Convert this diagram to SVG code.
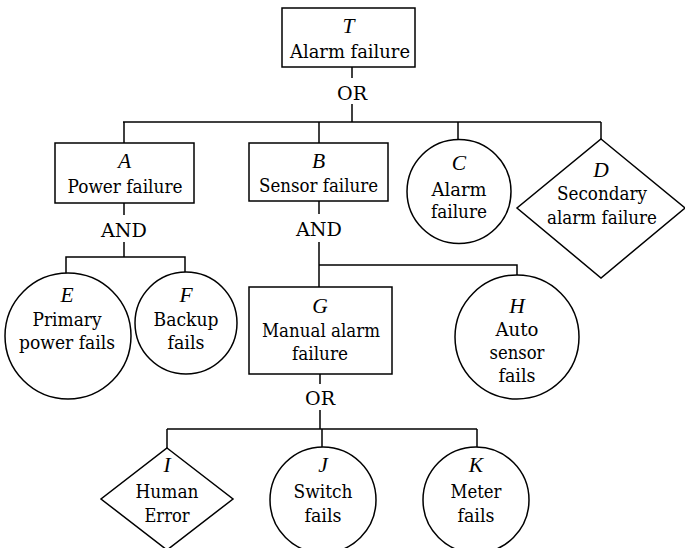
<svg xmlns="http://www.w3.org/2000/svg" width="685" height="548" viewBox="0 0 685 548">
<style>
.s{fill:#fff;stroke:#000;stroke-width:1.5}
.c line,.c polyline{stroke:#000;stroke-width:1.5;fill:none}
text{font-family:"DejaVu Serif","Liberation Serif",serif;font-size:19px;fill:#000;text-anchor:middle}
text.i{font-family:"Liberation Serif","DejaVu Serif",serif;font-size:21.5px;font-style:italic}
</style>
<rect width="685" height="548" fill="#fff"/>
<g class="c" id="connectors">
<line x1="352" y1="67" x2="352" y2="78"/>
<line x1="352" y1="104" x2="352" y2="122"/>
<line x1="123" y1="122" x2="601" y2="122"/>
<line x1="124" y1="122" x2="124" y2="143"/>
<line x1="319" y1="122" x2="319" y2="143"/>
<line x1="458" y1="122" x2="458" y2="140"/>
<line x1="601" y1="122" x2="601" y2="139"/>
<line x1="124" y1="203" x2="124" y2="215"/>
<line x1="124" y1="242" x2="124" y2="257"/>
<polyline points="66,274 66,257 185,257 185,272"/>
<line x1="319" y1="201" x2="319" y2="214"/>
<line x1="319" y1="242" x2="319" y2="287"/>
<polyline points="319,265 517,265 517,275"/>
<line x1="320" y1="374" x2="320" y2="384"/>
<line x1="320" y1="410" x2="320" y2="429"/>
<line x1="167" y1="429" x2="477" y2="429"/>
<line x1="167" y1="429" x2="167" y2="448"/>
<line x1="322" y1="429" x2="322" y2="447"/>
<line x1="477" y1="429" x2="477" y2="447"/>
<text x="352" y="100" textLength="30" lengthAdjust="spacingAndGlyphs">OR</text>
<text x="124" y="237" textLength="46" lengthAdjust="spacingAndGlyphs">AND</text>
<text x="319" y="236" textLength="46" lengthAdjust="spacingAndGlyphs">AND</text>
<text x="320" y="405" textLength="30" lengthAdjust="spacingAndGlyphs">OR</text>
</g>
<g id="T"><rect class="s" x="282" y="8" width="133" height="59"/><text class="i" x="348.5" y="33">T</text><text x="350" y="58" textLength="120" lengthAdjust="spacingAndGlyphs">Alarm failure</text></g>
<g id="A"><rect class="s" x="55" y="143" width="139" height="60"/><text class="i" x="124.5" y="168">A</text><text x="125" y="193" textLength="115" lengthAdjust="spacingAndGlyphs">Power failure</text></g>
<g id="B"><rect class="s" x="249" y="143" width="139" height="58"/><text class="i" x="318.5" y="168">B</text><text x="318.5" y="192" textLength="119" lengthAdjust="spacingAndGlyphs">Sensor failure</text></g>
<g id="C"><circle class="s" cx="459" cy="191.5" r="52"/><text class="i" x="459" y="170">C</text><text x="459" y="196" textLength="55" lengthAdjust="spacingAndGlyphs">Alarm</text><text x="459" y="218" textLength="56" lengthAdjust="spacingAndGlyphs">failure</text></g>
<g id="D"><polygon class="s" points="601,139 685,208 601,278 517,208"/><text class="i" x="601" y="177">D</text><text x="602" y="200" textLength="90" lengthAdjust="spacingAndGlyphs">Secondary</text><text x="602" y="224" textLength="110" lengthAdjust="spacingAndGlyphs">alarm failure</text></g>
<g id="E"><circle class="s" cx="68" cy="336" r="63"/><text class="i" x="67" y="302">E</text><text x="67" y="326" textLength="69" lengthAdjust="spacingAndGlyphs">Primary</text><text x="67" y="349" textLength="96" lengthAdjust="spacingAndGlyphs">power fails</text></g>
<g id="F"><circle class="s" cx="186" cy="323" r="51"/><text class="i" x="186" y="302">F</text><text x="186" y="326" textLength="65" lengthAdjust="spacingAndGlyphs">Backup</text><text x="186" y="349" textLength="37" lengthAdjust="spacingAndGlyphs">fails</text></g>
<g id="G"><rect class="s" x="249" y="287" width="143" height="87"/><text class="i" x="320" y="313">G</text><text x="321" y="337" textLength="118" lengthAdjust="spacingAndGlyphs">Manual alarm</text><text x="320" y="360" textLength="56" lengthAdjust="spacingAndGlyphs">failure</text></g>
<g id="H"><circle class="s" cx="517" cy="337" r="62"/><text class="i" x="517" y="313">H</text><text x="517" y="336" textLength="43" lengthAdjust="spacingAndGlyphs">Auto</text><text x="517" y="359" textLength="55" lengthAdjust="spacingAndGlyphs">sensor</text><text x="517" y="382" textLength="37" lengthAdjust="spacingAndGlyphs">fails</text></g>
<g id="I"><polygon class="s" points="167,448 233,499 167,550 101,499"/><text class="i" x="167" y="472">I</text><text x="167" y="498" textLength="63" lengthAdjust="spacingAndGlyphs">Human</text><text x="167" y="522" textLength="45" lengthAdjust="spacingAndGlyphs">Error</text></g>
<g id="J"><circle class="s" cx="323" cy="500" r="53"/><text class="i" x="323" y="472">J</text><text x="323" y="498" textLength="59" lengthAdjust="spacingAndGlyphs">Switch</text><text x="323" y="522" textLength="37" lengthAdjust="spacingAndGlyphs">fails</text></g>
<g id="K"><circle class="s" cx="476" cy="500" r="53"/><text class="i" x="476" y="472">K</text><text x="476" y="498" textLength="51" lengthAdjust="spacingAndGlyphs">Meter</text><text x="476" y="522" textLength="37" lengthAdjust="spacingAndGlyphs">fails</text></g>
</svg>
